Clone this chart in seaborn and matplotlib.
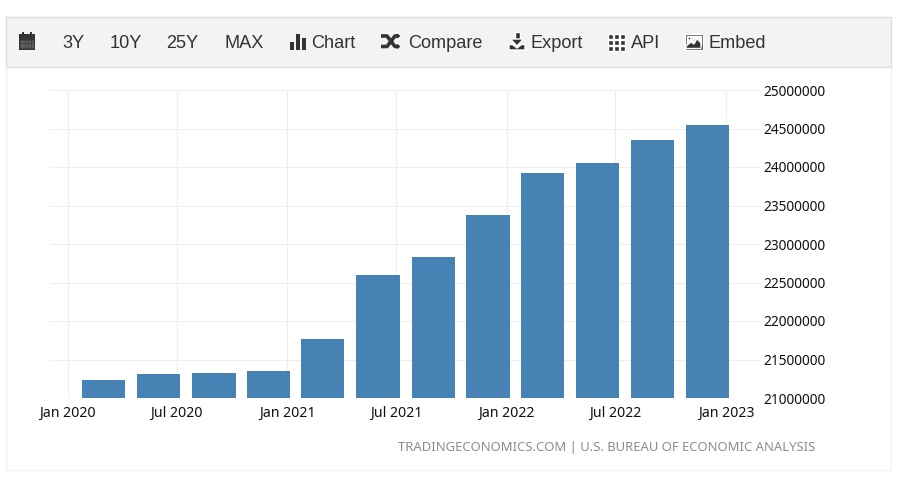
import matplotlib
matplotlib.use("Agg")
import matplotlib.pyplot as plt
import matplotlib.dates as mdates
from matplotlib.patches import Rectangle, Polygon, Circle
import numpy as np
import pandas as pd
import seaborn as sns

quarters = ["2020-03-01", "2020-06-01", "2020-09-01", "2020-12-01",
            "2021-03-01", "2021-06-01", "2021-09-01", "2021-12-01",
            "2022-03-01", "2022-06-01", "2022-09-01", "2022-12-01"]
values = [21234000, 21310000, 21322000, 21350000, 21765000, 22595000,
          22825000, 23375000, 23925000, 24050000, 24345000, 24545000]
tick_dates = ["2020-01-01", "2020-07-01", "2021-01-01", "2021-07-01",
              "2022-01-01", "2022-07-01", "2023-01-01"]
tick_labels = ["Jan 2020", "Jul 2020", "Jan 2021", "Jul 2021",
               "Jan 2022", "Jul 2022", "Jan 2023"]
y_ticks = [21000000, 21500000, 22000000, 22500000, 23000000,
           23500000, 24000000, 24500000, 25000000]
menu_labels = ["3Y", "10Y", "25Y", "MAX", "Chart", "Compare", "Export", "API", "Embed"]
menu_x = [62, 110, 166, 224, 311, 408, 530, 631, 708]
source = "TRADINGECONOMICS.COM | U.S. BUREAU OF ECONOMIC ANALYSIS"

W, H = 900, 478
sns.set_theme(style="white")
plt.rcParams["font.family"] = ["Noto Sans", "DejaVu Sans"]
fig = plt.figure(figsize=(W / 100, H / 100), dpi=100, facecolor="white")

# overlay in pixel coordinates (y downward) for the page furniture
bg = fig.add_axes([0, 0, 1, 1], zorder=0)
bg.set_xlim(0, W)
bg.set_ylim(H, 0)
bg.axis("off")
bg.add_patch(Rectangle((6, 67), 885, 403, fc="white", ec="#f2f2f2", lw=1))
bg.add_patch(Rectangle((6, 17), 885, 50, fc="#f3f3f3", ec="#dddddd", lw=1))

DARK = "#333333"
for lab, x in zip(menu_labels, menu_x):
    bg.text(x, 43, lab, family="Liberation Sans", fontsize=13.1, color=DARK,
            ha="left", va="center")

# calendar icon
bg.add_patch(Rectangle((19, 34), 16, 16, fc=DARK, ec="none"))
bg.add_patch(Rectangle((22, 32), 2, 3, fc=DARK, ec="none"))
bg.add_patch(Rectangle((30, 32), 2, 3, fc=DARK, ec="none"))
for gx in np.arange(21.5, 34, 2.8):
    bg.plot([gx, gx], [40, 49], color="#999999", lw=0.35)
for gy in (42, 44.5, 47):
    bg.plot([20, 34], [gy, gy], color="#999999", lw=0.35)
# bar-chart icon
for bx, by, bw in ((290, 42, 4), (295.5, 34, 4.5), (301.5, 38, 4.5)):
    bg.add_patch(Rectangle((bx, by), bw, 50 - by, fc=DARK, ec="none"))
# shuffle icon
bg.plot([381, 387, 395, 399], [36, 36, 46.5, 46.5], color=DARK, lw=2.6, solid_capstyle="butt")
bg.plot([381, 387, 395, 399], [46.5, 46.5, 36, 36], color=DARK, lw=2.6, solid_capstyle="butt")
bg.add_patch(Polygon([[396, 32], [396, 40], [402, 36]], fc=DARK))
bg.add_patch(Polygon([[396, 42.5], [396, 50.5], [402, 46.5]], fc=DARK))
# download icon
bg.add_patch(Rectangle((514.5, 32), 5, 8, fc=DARK))
bg.add_patch(Polygon([[510.5, 39], [523.5, 39], [517, 46]], fc=DARK))
bg.add_patch(Polygon([[509, 44.5], [512.5, 44.5], [517, 48], [521.5, 44.5], [525, 44.5],
                      [525, 50], [509, 50]], fc=DARK))
# grid icon
for gx in (608, 614, 620):
    for gy in (34, 40, 45.5):
        bg.add_patch(Rectangle((gx, gy), 5, 5, fc=DARK))
# image icon
bg.add_patch(Rectangle((685, 34), 17.5, 15.5, fc=DARK))
bg.add_patch(Rectangle((686.5, 35.5), 14.5, 9, fc="#f3f3f3"))
bg.add_patch(Circle((689.5, 38.5), 1.6, fc=DARK))
bg.add_patch(Polygon([[686, 46], [691, 42], [694, 44], [697, 38.5], [701, 43], [701, 48.5], [686, 48.5]], fc=DARK))

bg.text(815.5, 447.5, source, family="Noto Sans", fontsize=9.39, color="#8c8c8c",
        ha="right", va="center")

# chart
AX_L, AX_R, AX_T, AX_B = 50, 760, 90, 398
ax = fig.add_axes([AX_L / W, 1 - AX_B / H, (AX_R - AX_L) / W, (AX_B - AX_T) / H],
                  zorder=1, facecolor="none")
df = pd.DataFrame({"date": mdates.date2num(pd.to_datetime(quarters)), "value": values})
sns.barplot(data=df, x="date", y="value", native_scale=True, color="#4682b4",
            saturation=1, width=0.8, ax=ax, zorder=3, linewidth=0, edgecolor="none")

tick_nums = mdates.date2num(pd.to_datetime(tick_dates))
px_per_unit = (726 - 67.5) / (tick_nums[-1] - tick_nums[0])
ax.set_xlim(tick_nums[0] + (AX_L - 67.5) / px_per_unit,
            tick_nums[0] + (AX_R - 67.5) / px_per_unit)
ax.set_ylim(21000000, 25000000)
ax.set_xticks(tick_nums)
ax.set_xticklabels(tick_labels)
ax.set_yticks(y_ticks)
ax.set_yticklabels([str(v) for v in y_ticks])
ax.yaxis.tick_right()
ax.set_xlabel("")
ax.set_ylabel("")
ax.grid(True, color="#eeeeee", lw=0.8, zorder=0)
ax.set_axisbelow(True)
for s in ax.spines.values():
    s.set_visible(False)
ax.tick_params(axis="x", length=3, width=0.8, color="#eeeeee", pad=3, labelsize=10.2, labelcolor="#111111")
ax.tick_params(axis="y", length=0, pad=2.5, labelsize=9.85, labelcolor="#111111")

fig.savefig("out.png", dpi=100)
